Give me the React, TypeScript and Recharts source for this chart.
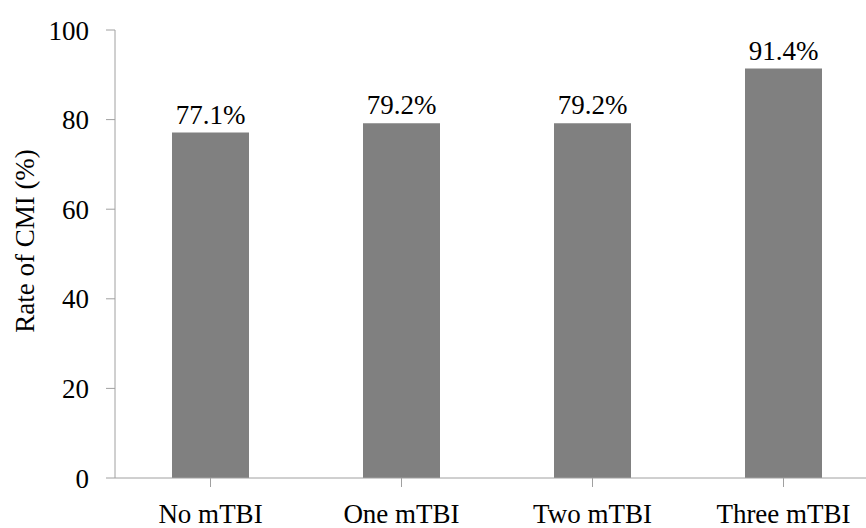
import { BarChart, Bar, XAxis, YAxis, LabelList } from 'recharts'

const categories = ['No mTBI', 'One mTBI', 'Two mTBI', 'Three mTBI']
const rates = [77.1, 79.2, 79.2, 91.4]
const yTicks = [0, 20, 40, 60, 80, 100]

const FONT = '"Liberation Serif", serif'
const AXIS = '#a0a0a0'
const FS = 27

export default function App() {
  const data = categories.map((name, i) => ({ name, rate: rates[i] }))

  return (
    <div style={{ position: 'absolute', left: 0, top: 0, width: 866, height: 528, overflow: 'hidden', background: '#fff' }}>
      <BarChart width={890} height={528} data={data} margin={{ top: 30, right: 11, left: 0, bottom: 0 }}>
        <XAxis
          dataKey="name"
          height={50}
          stroke={AXIS}
          tickSize={9}
          tickMargin={17}
          tickLine={{ stroke: AXIS }}
          tick={{ fill: '#000', fontSize: FS, fontFamily: FONT }}
          interval={0}
        />
        <YAxis
          width={115}
          domain={[0, 100]}
          ticks={yTicks}
          stroke={AXIS}
          tickSize={9}
          tickMargin={17}
          tick={{ fill: '#000', fontSize: FS, fontFamily: FONT }}
          label={{
            content: () => (
              <text x={25} y={241} transform="rotate(-90 25 241)" textAnchor="middle" dominantBaseline="central"
                fill="#000" fontSize={FS} fontFamily={FONT}>
                Rate of CMI (%)
              </text>
            ),
          }}
        />
        <Bar dataKey="rate" fill="#808080" barSize={77} isAnimationActive={false}>
          <LabelList
            dataKey="rate"
            position="top"
            offset={9}
            fill="#000"
            fontSize={FS}
            fontFamily={FONT}
            formatter={(v: any) => `${Number(v).toFixed(1)}%`}
          />
        </Bar>
      </BarChart>
    </div>
  )
}
